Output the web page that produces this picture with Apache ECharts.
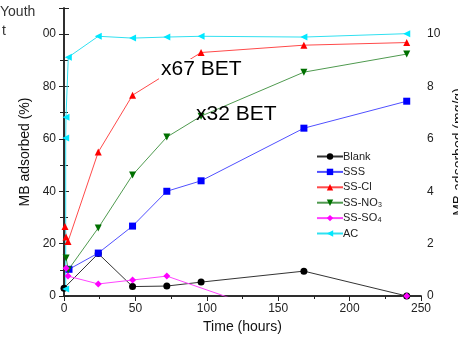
<!DOCTYPE html>
<html>
<head>
<meta charset="utf-8">
<script src="https://cdn.jsdelivr.net/npm/echarts@6/dist/echarts.min.js"></script>
<style>
  html, body { margin: 0; padding: 0; background: #fff; }
  #main { width: 458px; height: 339px; }
</style>
</head>
<body>
<div id="main"></div>
<script>
var myChart = echarts.init(document.getElementById('main'));

// time (hours) and MB adsorbed (%) for each sample
var blankTime = [0, 24, 48, 72, 96, 168, 240];
var blankVal  = [3, 16.2, 3.6, 3.8, 5.3, 9.5, 0];
var sssTime = [3.5, 24, 48, 72, 96, 168, 240];
var sssVal  = [10.2, 16.4, 26.7, 40, 44, 64.1, 74.4];
var clTime = [0.7, 1.4, 2.8, 24, 48, 96, 168, 240];
var clVal  = [26.5, 22.5, 20.8, 55, 76.7, 93, 95.8, 96.8];
var no3Time = [1.5, 3, 24, 48, 72, 96, 168, 240];
var no3Val  = [14.5, 10, 26, 46.2, 60.7, 68.7, 85.5, 92.4];
var so4Time = [1.5, 2.8, 24, 48, 72, 168, 240];
var so4Val  = [10.6, 7.6, 4.6, 6.1, 7.6, -10.5, 0];
var acTime = [1.2, 1.2, 1.4, 3, 24, 48, 72, 96, 168, 240];
var acVal  = [2.7, 60.3, 68.3, 91.2, 99.2, 98.5, 98.9, 99.2, 98.9, 100.2];

function pairs(t, v) {
    return t.map(function(x, i) { return [x, v[i]]; });
}

function mkSeries(name, t, v, symbol, rot, mark, line) {
    return {
        name: name,
        type: 'line',
        data: pairs(t, v),
        symbol: symbol,
        symbolRotate: rot,
        symbolSize: 7,
        clip: true,
        itemStyle: { color: mark },
        lineStyle: { color: line, width: 1 },
        emphasis: { disabled: true },
        z: 3
    };
}

var FONT = 'Liberation Sans, Arial, sans-serif';
var axisFont = { fontFamily: FONT, fontSize: 12, color: '#222' };

var option = {
    animation: false,
    grid: { left: 64, right: 37, top: 8, bottom: 43, outerBoundsMode: 'none', containLabel: false },
    legend: {
        orient: 'vertical',
        left: 311,
        top: 146,
        itemWidth: 26,
        itemHeight: 8,
        itemGap: 4.4,
        textStyle: { fontFamily: FONT, fontSize: 11, color: '#222', padding: [0, 0, 0, -5] },
        data: ['Blank', 'SSS', 'SS-Cl', 'SS-NO₃', 'SS-SO₄', 'AC']
    },
    xAxis: [{
        type: 'value',
        min: 0, max: 250, interval: 50,
        name: 'Time (hours)',
        nameLocation: 'middle',
        nameGap: 24,
        nameTextStyle: { fontFamily: FONT, fontSize: 14, color: '#111' },
        axisLine: { lineStyle: { color: '#222', width: 1.5 } },
        axisTick: { length: 5, lineStyle: { color: '#222' } },
        minorTick: { show: true, splitNumber: 2, length: 3, lineStyle: { color: '#222' } },
        axisLabel: Object.assign({ margin: 7 }, axisFont),
        splitLine: { show: false }
    }, {
        type: 'value',
        position: 'top',
        min: 0, max: 250, interval: 50,
        axisLine: { lineStyle: { color: '#222', width: 1.5 } },
        axisTick: { inside: true, length: 5, lineStyle: { color: '#222' } },
        minorTick: { show: true, splitNumber: 2, length: 3, lineStyle: { color: '#222' } },
        axisLabel: { show: false },
        splitLine: { show: false }
    }],
    yAxis: [{
        type: 'value',
        min: 0, max: 110, interval: 20,
        name: 'MB adsorbed (%)',
        nameLocation: 'middle',
        nameGap: 32,
        nameTextStyle: { fontFamily: FONT, fontSize: 14, color: '#111' },
        axisLine: { show: true, lineStyle: { color: '#222', width: 1.5 } },
        axisTick: { show: true, length: 5, lineStyle: { color: '#222' } },
        minorTick: { show: true, splitNumber: 2, length: 4, lineStyle: { color: '#222' } },
        axisLabel: Object.assign({
            margin: 8,
            formatter: function(v) {
                if (v > 100) return '';
                if (v === 100) return '00';
                return v;
            }
        }, axisFont),
        splitLine: { show: false }
    }, {
        type: 'value',
        position: 'right',
        min: 0, max: 11, interval: 2,
        name: 'MB adsorbed (mg/g)',
        nameLocation: 'middle',
        nameGap: 31,
        nameRotate: 90,
        nameTextStyle: { fontFamily: FONT, fontSize: 14, color: '#111' },
        axisLine: { show: true, lineStyle: { color: '#222', width: 1.5 } },
        axisTick: { show: true, length: 5, lineStyle: { color: '#222' } },
        minorTick: { show: true, splitNumber: 2, length: 4, lineStyle: { color: '#222' } },
        axisLabel: Object.assign({
            margin: 6,
            formatter: function(v) { return v > 10 ? '' : v; }
        }, axisFont),
        splitLine: { show: false }
    }],
    series: [
        mkSeries('Blank', blankTime, blankVal, 'circle', 0, '#000000', '#333333'),
        mkSeries('SSS', sssTime, sssVal, 'rect', 0, '#0000ff', '#5050ff'),
        mkSeries('SS-Cl', clTime, clVal, 'triangle', 0, '#ff0000', '#ff4a4a'),
        mkSeries('SS-NO₃', no3Time, no3Val, 'triangle', 180, '#007000', '#4f9a4f'),
        mkSeries('SS-SO₄', so4Time, so4Val, 'diamond', 0, '#ff00ff', '#ff44ff'),
        mkSeries('AC', acTime, acVal, 'triangle', 90, '#00e8ff', '#30e0f0')
    ],
    graphic: [
        { type: 'text', left: 159, top: 59, z: 100,
          style: { text: 'x67 BET', fontFamily: FONT, fontSize: 21, fill: '#000', backgroundColor: '#fff', padding: [0, 2] } },
        { type: 'text', left: 196, top: 104, z: 100,
          style: { text: 'x32 BET', fontFamily: FONT, fontSize: 21, fill: '#000' } },
        { type: 'text', left: 0, top: 5, z: 100,
          style: { text: 'Youth', fontFamily: FONT, fontSize: 14, fill: '#333' } },
        { type: 'text', left: 2, top: 24, z: 100,
          style: { text: 't', fontFamily: FONT, fontSize: 14, fill: '#333' } }
    ]
};
myChart.setOption(option);
</script>
</body>
</html>
